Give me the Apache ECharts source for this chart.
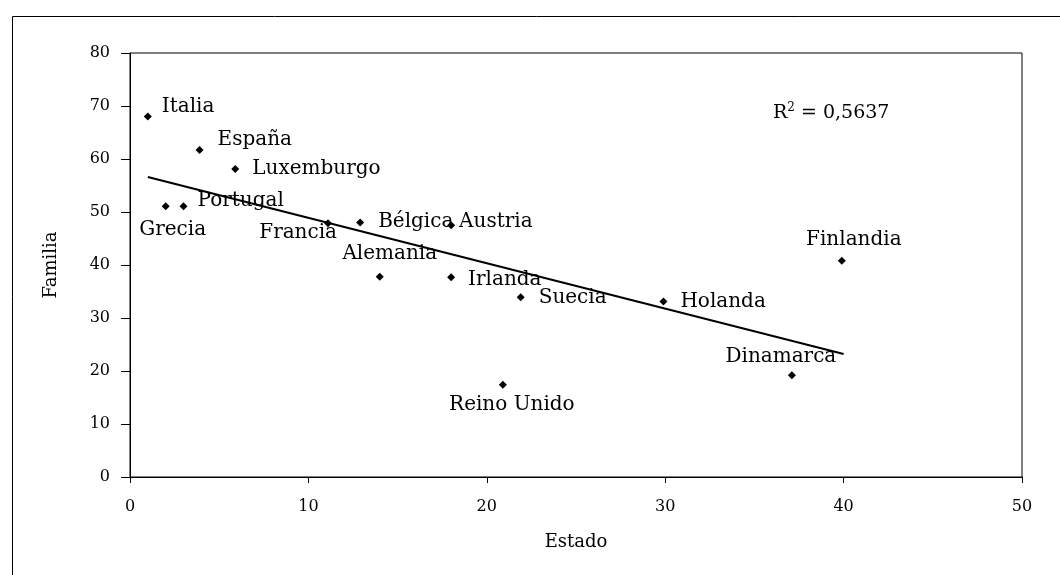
<!DOCTYPE html>
<html>
<head>
<meta charset="utf-8">
<title>Estado vs Familia</title>
<script src="https://cdn.jsdelivr.net/npm/echarts@6/dist/echarts.min.js"></script>
<style>
    html, body { margin: 0; padding: 0; background: #fff; }
    #chart { width: 1060px; height: 575px; }
</style>
</head>
<body>
<div id="chart"></div>
<script>
// países y valores (Estado, Familia)
var paises  = ['Italia', 'España', 'Luxemburgo', 'Grecia', 'Portugal', 'Francia', 'Bélgica', 'Austria',
               'Alemania', 'Irlanda', 'Suecia', 'Reino Unido', 'Holanda', 'Finlandia', 'Dinamarca'];
var estado  = [1, 3.9, 5.9, 2, 3, 11.1, 12.9, 18, 14, 18, 21.9, 20.9, 29.9, 39.9, 37.1];
var familia = [68, 61.7, 58.1, 51.1, 51.1, 47.9, 48, 47.5, 37.8, 37.7, 33.9, 17.4, 33.1, 40.8, 19.2];

// línea de tendencia (extremos)
var tendX = [1, 40];
var tendY = [56.6, 23.2];

var ticksX = [0, 10, 20, 30, 40, 50];
var ticksY = [0, 10, 20, 30, 40, 50, 60, 70, 80];

// posición de cada etiqueta respecto a su punto: [alineación, dx, dy]
var etiquetas = {
    'Italia':      ['left', 14, -10],
    'España':      ['left', 18, -10],
    'Luxemburgo':  ['left', 17, 0],
    'Grecia':      ['center', 7, 24],
    'Portugal':    ['left', 14, -5],
    'Francia':     ['right', 9, 10],
    'Bélgica':     ['left', 18, -1],
    'Austria':     ['left', 8, -3],
    'Alemania':    ['center', 10, -23],
    'Irlanda':     ['left', 17, 3],
    'Suecia':      ['left', 18, 0],
    'Reino Unido': ['center', 9, 20],
    'Holanda':     ['left', 17, 0],
    'Finlandia':   ['center', 12, -21],
    'Dinamarca':   ['center', -11, -18]
};

var fuente = 'DejaVu Serif';

var puntos = paises.map(function (p, i) {
    var e = etiquetas[p];
    return {
        name: p,
        value: [estado[i], familia[i]],
        label: { align: e[0], offset: [e[1], e[2]] }
    };
});

var grafico = echarts.init(document.getElementById('chart'));

var opcion = {
    backgroundColor: '#fff',
    animation: false,
    textStyle: { fontFamily: fuente, color: '#000' },
    title: {
        text: 'R{sup|2} = 0,5637',
        left: 768,
        top: 97,
        textStyle: {
            fontFamily: fuente, fontWeight: 'normal', fontSize: 19, color: '#000',
            rich: { sup: { fontFamily: fuente, fontSize: 12, verticalAlign: 'top', padding: [0, 0, 10, 0], color: '#000' } }
        }
    },
    graphic: [{
        // marco exterior del gráfico
        type: 'rect',
        left: 10, top: 14,
        shape: { width: 1070, height: 600 },
        style: { fill: null, stroke: '#000', lineWidth: 1 },
        silent: true
    }],
    grid: {
        left: 130, right: 38, top: 53, bottom: 98,
        show: true, borderColor: '#000', borderWidth: 1, backgroundColor: 'transparent'
    },
    xAxis: {
        type: 'value',
        min: ticksX[0], max: ticksX[ticksX.length - 1], interval: 10,
        name: 'Estado', nameLocation: 'middle', nameGap: 56,
        nameTextStyle: { fontFamily: fuente, fontSize: 18, color: '#000' },
        axisLine: { show: true, lineStyle: { color: '#000', width: 1 } },
        axisTick: { show: true, length: 6, lineStyle: { color: '#000' } },
        axisLabel: { fontFamily: fuente, fontSize: 16, color: '#000', margin: 22 },
        splitLine: { show: false }
    },
    yAxis: {
        type: 'value',
        min: ticksY[0], max: ticksY[ticksY.length - 1], interval: 10,
        name: 'Familia', nameLocation: 'middle', nameGap: 70,
        nameTextStyle: { fontFamily: fuente, fontSize: 18, color: '#000' },
        axisLine: { show: true, lineStyle: { color: '#000', width: 1 } },
        axisTick: { show: true, length: 9, lineStyle: { color: '#000' } },
        axisLabel: { fontFamily: fuente, fontSize: 16, color: '#000', margin: 20 },
        splitLine: { show: false }
    },
    series: [
        {
            name: 'Tendencia',
            type: 'line',
            data: tendX.map(function (x, i) { return [x, tendY[i]]; }),
            showSymbol: false,
            lineStyle: { color: '#000', width: 2 },
            z: 2
        },
        {
            name: 'Países',
            type: 'scatter',
            symbol: 'diamond',
            symbolSize: 8,
            itemStyle: { color: '#000', opacity: 1 },
            data: puntos,
            label: {
                show: true,
                position: 'inside',
                formatter: '{b}',
                fontFamily: fuente,
                fontSize: 20,
                color: '#000',
                verticalAlign: 'middle'
            },
            z: 3
        }
    ]
};

grafico.setOption(opcion);
</script>
</body>
</html>
